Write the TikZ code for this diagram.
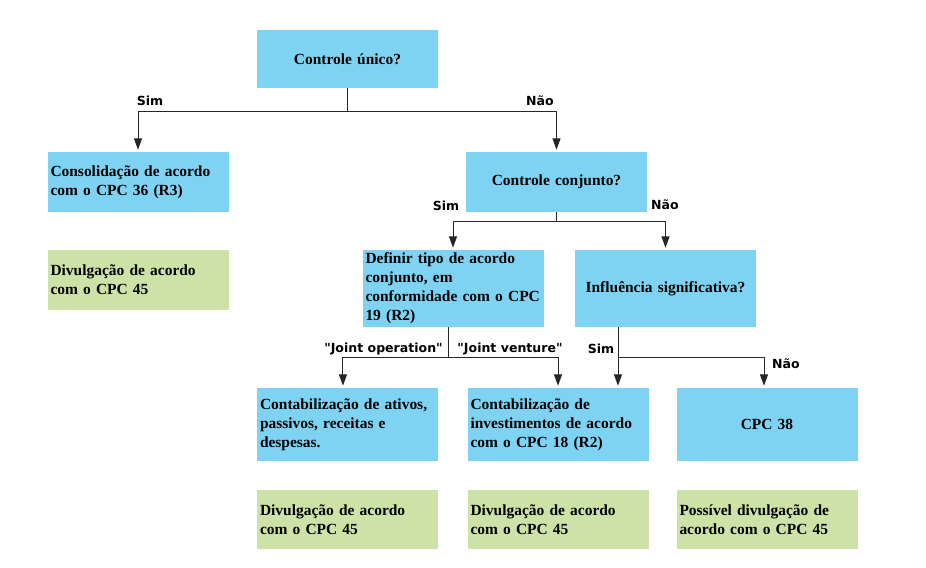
\documentclass[tikz,border=0pt]{standalone}
\usepackage{fontspec}
\setmainfont{Liberation Serif}
\newfontfamily\labelfont{DejaVu Sans}
\usetikzlibrary{arrows.meta}

\definecolor{boxblue}{RGB}{127,211,242}
\definecolor{boxgreen}{RGB}{205,226,166}

\begin{document}
\begin{tikzpicture}[x=0.75pt,y=-0.75pt,
                    blue box/.style={fill=boxblue,inner sep=0pt,inner xsep=2.25pt,text width=131.25pt,
                      align=left,font=\fontsize{11.6}{14.2}\selectfont\bfseries},
                    green box/.style={blue box,fill=boxgreen,minimum height=44.25pt},
                    branch label/.style={inner sep=0pt,font=\labelfont\fontsize{9.4}{11}\selectfont\bfseries},
                    flow line/.style={draw=black!85,line width=0.75pt},
                    flow arrow/.style={flow line,-{Triangle[length=8.5pt,width=6pt]},shorten >=1.5pt}]
  \useasboundingbox (0,0) rectangle (926,568);

  % questions
  \node[blue box,align=center,minimum height=43.5pt] (unico) at (347.5,59) {Controle único?};
  \node[blue box,align=center,minimum height=45pt] (conj) at (556.5,182) {Controle conjunto?};
  \node[blue box,minimum height=57.75pt] (tipo) at (453,288.5)
    {Definir tipo de acordo\\conjunto, em\\conformidade com o CPC\\19 (R2)};
  \node[blue box,align=center,minimum height=57.75pt] (infl) at (665.5,288.5) {Influência significativa?};

  % outcomes
  \node[blue box,minimum height=45pt] (cons) at (138,182) {Consolidação de acordo\\com o CPC 36 (R3)};
  \node[green box,minimum height=45pt] (divcons) at (138,280) {Divulgação de acordo\\com o CPC 45};
  \node[blue box,minimum height=54.75pt] (ativos) at (347.5,424.5)
    {Contabilização de ativos,\\passivos, receitas e\\despesas.};
  \node[blue box,minimum height=54.75pt] (invest) at (558,424.5)
    {Contabilização de\\investimentos de acordo\\com o CPC 18 (R2)};
  \node[blue box,align=center,minimum height=54.75pt] (cpc38) at (767,424.5) {CPC 38};
  \node[green box] (divativos) at (347.5,519.5) {Divulgação de acordo\\com o CPC 45};
  \node[green box] (divinvest) at (558,519.5) {Divulgação de acordo\\com o CPC 45};
  \node[green box] (divpossivel) at (767,519.5) {Possível divulgação de\\acordo com o CPC 45};

  % connectors
  \draw[flow arrow] (unico.south) -- (unico.south |- 0,111) -| (cons.north);
  \draw[flow arrow] (unico.south) -- (unico.south |- 0,111) -| (conj.north);
  \draw[flow arrow] (conj.south) -- (conj.south |- 0,221) -| (tipo.north);
  \draw[flow arrow] (conj.south) -- (conj.south |- 0,221) -| (infl.north);
  \coordinate (tipo fork) at (448,357);
  \draw[flow arrow] (tipo.south -| tipo fork) -- (tipo fork) -| ([xshift=-3.4pt]ativos.north);
  \draw[flow arrow] (tipo.south -| tipo fork) -- (tipo fork) -| (invest.north);
  \coordinate (infl fork) at (618,357);
  \draw[flow arrow] (infl.south -| infl fork) -- (invest.north -| infl fork);
  \draw[flow arrow] (infl fork) -| ([xshift=-2.25pt]cpc38.north);

  % branch labels
  \node[branch label] (sim1) at (150,101) {Sim};
  \node[branch label] (nao1) at (540,101) {Não};
  \node[branch label] (sim2) at (446,206) {Sim};
  \node[branch label] (nao2) at (665,205) {Não};
  \node[branch label] (jop) at (383.5,349) {"Joint operation"};
  \node[branch label] (jvt) at (510,349) {"Joint venture"};
  \node[branch label] (sim3) at (601,349) {Sim};
  \node[branch label] (nao3) at (786,364) {Não};
\end{tikzpicture}
\end{document}
